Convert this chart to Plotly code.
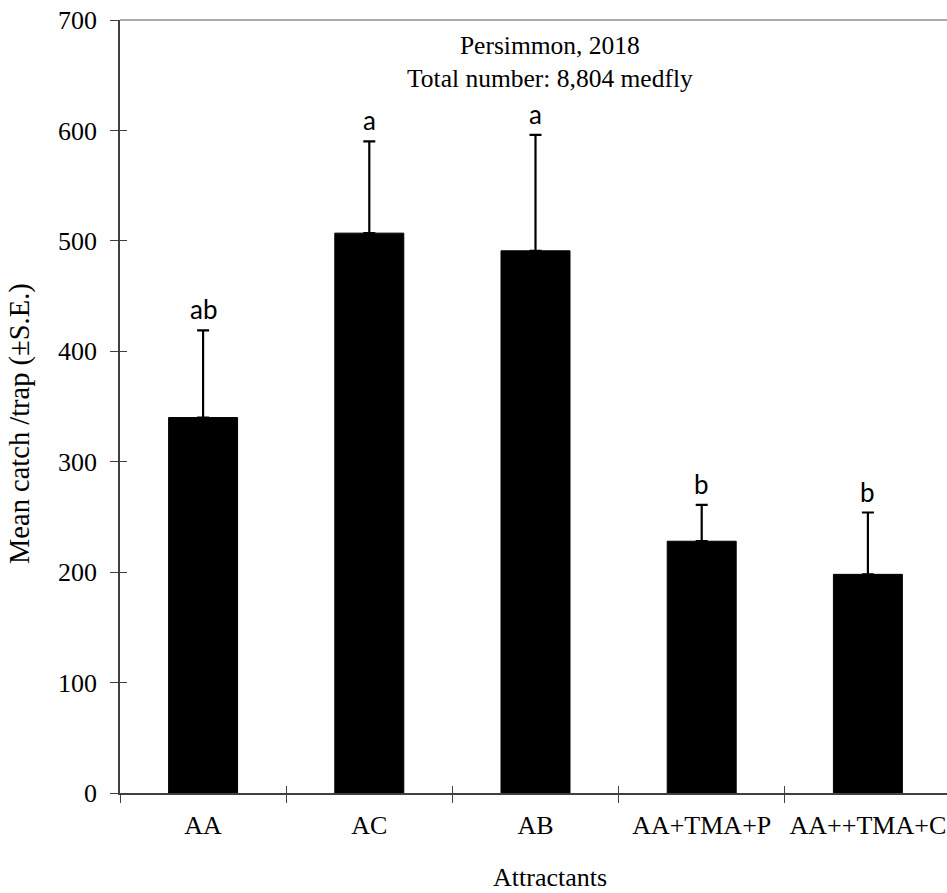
import plotly.graph_objects as go

categories = ["AA", "AC", "AB", "AA+TMA+P", "AA++TMA+C"]
means = [340, 507, 491, 228, 198]
se = [79, 83, 105, 33, 56]
letters = ["ab", "a", "a", "b", "b"]
y_ticks = [0, 100, 200, 300, 400, 500, 600, 700]

W, H = 947, 893
L, R, T, B = 120, 0, 20, 100
pw, ph = W - L - R, H - T - B

def px_x(p):
    return (p - L) / pw

def px_y(p):
    return (H - B - p) / ph

serif = "Liberation Serif, Times New Roman, serif"
sans = "Lato, Carlito, Calibri, sans-serif"
axc = "#404040"

fig = go.Figure()
fig.add_trace(go.Bar(
    x=categories, y=means,
    marker=dict(color="black", line=dict(color="black", width=1)),
    width=0.415,
    error_y=dict(type="data", array=se, arrayminus=[0]*len(se), symmetric=False,
                 color="black", thickness=2.2, width=6),
    showlegend=False, hoverinfo="skip",
))
# invisible trace to carry the inside-tick overlay axes
fig.add_trace(go.Scatter(x=categories, y=means, mode="markers",
                         marker=dict(opacity=0), xaxis="x2", yaxis="y2",
                         showlegend=False, hoverinfo="skip"))

for c, m, s, l in zip(categories, means, se, letters):
    fig.add_annotation(x=c, y=m + s, xref="x", yref="y", text=l, showarrow=False,
                       yanchor="bottom", yshift=3, font=dict(family=sans, size=26, color="black"))

xr = [-0.5, -0.5 + pw / 166.2]
fig.update_layout(
    width=W, height=H, margin=dict(l=L, r=R, t=T, b=B),
    paper_bgcolor="white", plot_bgcolor="white",
    xaxis=dict(type="category", range=xr, tickson="boundaries", ticks="outside", ticklen=8,
               tickwidth=1.3, tickcolor=axc, showline=True, linecolor=axc, linewidth=1.6,
               showgrid=False, zeroline=False, ticklabelstandoff=8,
               tickfont=dict(family=serif, size=26, color="black")),
    yaxis=dict(range=[0, 700], tickvals=y_ticks, ticks="outside", ticklen=8, tickwidth=1.3,
               tickcolor=axc, showline=True, linecolor=axc, linewidth=1.6, showgrid=False,
               zeroline=False, ticklabelstandoff=8,
               tickfont=dict(family=serif, size=26, color="black")),
    xaxis2=dict(type="category", overlaying="x", matches="x", range=xr, tickson="boundaries",
                ticks="inside", ticklen=7, tickwidth=1.3, tickcolor=axc, showticklabels=False,
                showline=False, showgrid=False, zeroline=False),
    yaxis2=dict(overlaying="y", matches="y", range=[0, 700], tickvals=y_ticks, ticks="inside",
                ticklen=7, tickwidth=1.3, tickcolor=axc, showticklabels=False, showline=False,
                showgrid=False, zeroline=False),
    shapes=[dict(type="line", xref="paper", yref="paper", x0=0, x1=1, y0=1, y1=1,
                 line=dict(color="#8c8c8c", width=1.6))],
)

fig.add_annotation(x=px_x(550), y=px_y(62), xref="paper", yref="paper",
                   text="Persimmon, 2018<br>Total number: 8,804 medfly", showarrow=False,
                   xanchor="center", yanchor="middle", font=dict(family=serif, size=25.5, color="black"))
fig.add_annotation(x=px_x(550), y=px_y(878), xref="paper", yref="paper", text="Attractants",
                   showarrow=False, xanchor="center", yanchor="middle",
                   font=dict(family=serif, size=26, color="black"))
fig.add_annotation(x=px_x(20), y=px_y(424), xref="paper", yref="paper",
                   text="Mean catch /trap (±S.E.)", textangle=-90, showarrow=False,
                   xanchor="center", yanchor="middle", font=dict(family=serif, size=28.5, color="black"))

fig.write_html("out.html", config={"displayModeBar": False},
               post_script="document.body.style.margin='0';document.body.style.overflow='hidden';")
